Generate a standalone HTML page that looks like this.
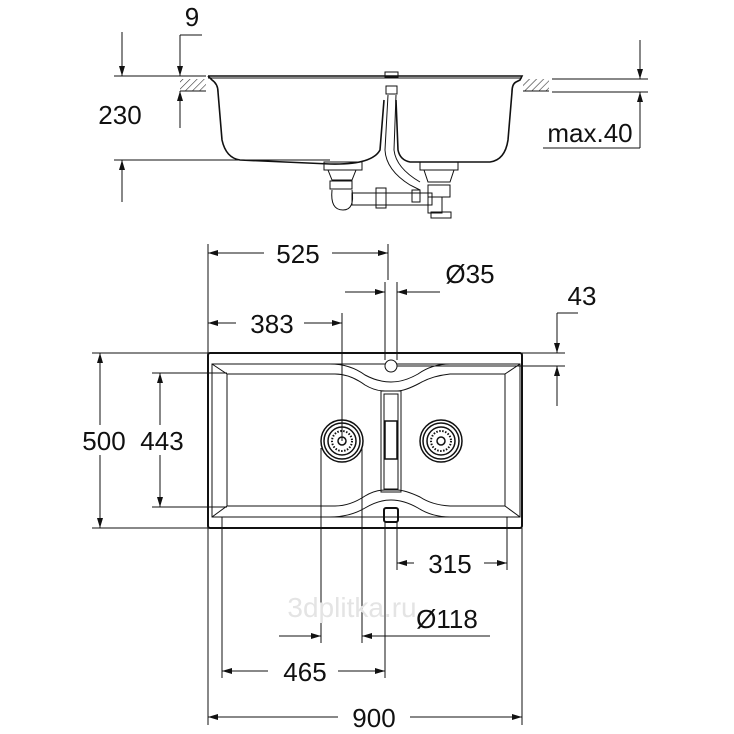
<!DOCTYPE html>
<html><head><meta charset="utf-8"><style>
html,body{margin:0;padding:0;background:#fff}
svg{display:block}
text{font-family:"Liberation Sans",Arial,sans-serif;font-size:26px;fill:#111}
</style></head><body>
<svg width="734" height="734" viewBox="0 0 734 734" xmlns="http://www.w3.org/2000/svg">
<defs>
<marker id="a" viewBox="0 0 10 6" refX="10" refY="3" markerWidth="14" markerHeight="6" markerUnits="userSpaceOnUse" orient="auto-start-reverse"><path d="M0,0L10,3L0,6z" fill="#111"/></marker>
<pattern id="h" width="5" height="5" patternUnits="userSpaceOnUse" patternTransform="rotate(45)"><line x1="0" y1="0" x2="0" y2="5" stroke="#333" stroke-width="1.2"/></pattern>
</defs>
<g stroke="#111" fill="none" stroke-width="1">
<rect x="180" y="79" width="26" height="12" fill="url(#h)" stroke="none"/>
<rect x="523" y="79" width="26" height="12" fill="url(#h)" stroke="none"/>
<line x1="180" y1="91" x2="206" y2="91"/><line x1="523" y1="91" x2="549" y2="91"/>
<path d="M208,76 L522,76 L520,80 L516,82 Q512,84 512,92 L508,140 Q505,160 490,162 L410,162 Q400,160 398,150 L396,100" stroke-width="1.6"/>
<path d="M208,76 L212,80 Q218,84 218,92 L222,140 Q226,158 240,160 L330,164 Q372,165 380,150 L384,100" stroke-width="1.6"/>
<line x1="208" y1="78" x2="522" y2="78"/>
<rect x="385" y="72" width="13" height="5"/>
<rect x="386" y="86" width="11" height="8"/>
<path d="M388,95 L385,150 Q386,170 410,185 L420,190 M396,95 L394,150 Q396,168 420,182"/>
<rect x="324" y="162" width="38" height="8"/><path d="M328,170 L356,170 L352,180 L332,180z"/>
<rect x="330" y="181" width="22" height="8"/><path d="M332,190 Q330,210 343,210 Q355,210 352,190"/>
<rect x="352" y="193" width="80" height="12"/><rect x="376" y="188" width="10" height="20"/>
<rect x="420" y="162" width="38" height="8"/><path d="M424,170 L454,170 L450,182 L428,182z"/>
<rect x="428" y="185" width="22" height="12"/><rect x="428" y="197" width="14" height="16"/>
<rect x="431" y="212" width="20" height="6"/><rect x="412" y="190" width="8" height="12"/>
<line x1="114" y1="76" x2="206" y2="76"/>
<line x1="114" y1="160" x2="330" y2="160"/>
<line x1="122" y1="32" x2="122" y2="76" marker-end="url(#a)"/>
<line x1="122" y1="202" x2="122" y2="160" marker-end="url(#a)"/>
<line x1="202" y1="35" x2="180" y2="35"/>
<line x1="180" y1="35" x2="180" y2="76" marker-end="url(#a)"/>
<line x1="180" y1="128" x2="180" y2="91" marker-end="url(#a)"/>
<line x1="552" y1="79" x2="648" y2="79"/>
<line x1="552" y1="92" x2="648" y2="92"/>
<line x1="640" y1="40" x2="640" y2="79" marker-end="url(#a)"/>
<line x1="640" y1="148" x2="640" y2="92" marker-end="url(#a)"/>
<line x1="543" y1="148" x2="640" y2="148"/>
<rect x="208" y="353" width="314" height="175" rx="2" stroke-width="2"/>
<rect x="212" y="364" width="308" height="153"/>
<path d="M212,364 L227,374 L227,506 L212,517 M520,364 L505,374 L505,506 L520,517"/>
<path d="M227,374 L335,374 Q350,374 365,385 Q375,391 385,391 L397,391 Q405,391 420,383 Q432,376 450,374 L505,374"/>
<path d="M212,364 L330,364 Q350,364 365,375 Q378,382 391,382 Q404,382 418,374 Q432,364 450,364 L520,364"/>
<path d="M227,506 L335,506 Q350,506 365,496 Q375,490 385,490 L397,490 Q405,490 420,497 Q432,505 450,506 L505,506"/>
<path d="M212,517 L330,517 Q350,517 365,508 Q378,500 391,500 Q404,500 418,508 Q432,517 450,517 L520,517"/>
<rect x="381" y="391" width="20" height="101"/><rect x="384" y="394" width="14" height="95"/>
<rect x="385" y="421" width="12" height="38" stroke-width="1.5"/>
<rect x="384" y="508" width="14" height="14" rx="2" stroke-width="2"/>
<circle cx="391" cy="366" r="6" fill="#fff"/>
<g stroke-width="1.5"><circle cx="342" cy="441" r="21"/><circle cx="342" cy="441" r="18"/><circle cx="342" cy="441" r="14"/><circle cx="342" cy="441" r="4"/>
<circle cx="441" cy="441" r="21"/><circle cx="441" cy="441" r="18"/><circle cx="441" cy="441" r="14"/><circle cx="441" cy="441" r="4"/></g>
<g stroke-dasharray="1.5 1.5" stroke-width="2"><circle cx="342" cy="441" r="10"/><circle cx="441" cy="441" r="10"/></g>
<line x1="208" y1="244" x2="208" y2="353"/><line x1="388" y1="244" x2="388" y2="280"/>
<line x1="208" y1="253" x2="388" y2="253" marker-start="url(#a)" marker-end="url(#a)"/>
<line x1="385" y1="282" x2="385" y2="360"/><line x1="397" y1="282" x2="397" y2="360"/>
<line x1="345" y1="292" x2="385" y2="292" marker-end="url(#a)"/>
<line x1="440" y1="292" x2="397" y2="292" marker-end="url(#a)"/>
<line x1="208" y1="323" x2="342" y2="323" marker-start="url(#a)" marker-end="url(#a)"/>
<line x1="342" y1="313" x2="342" y2="441"/>
<line x1="522" y1="353" x2="565" y2="353"/><line x1="397" y1="366" x2="565" y2="366"/>
<line x1="578" y1="313" x2="557" y2="313"/>
<line x1="557" y1="313" x2="557" y2="353" marker-end="url(#a)"/>
<line x1="557" y1="406" x2="557" y2="366" marker-end="url(#a)"/>
<line x1="92" y1="353" x2="208" y2="353"/><line x1="92" y1="528" x2="208" y2="528"/>
<line x1="100" y1="353" x2="100" y2="528" marker-start="url(#a)" marker-end="url(#a)"/>
<line x1="152" y1="373" x2="227" y2="373"/><line x1="152" y1="507" x2="227" y2="507"/>
<line x1="160" y1="373" x2="160" y2="507" marker-start="url(#a)" marker-end="url(#a)"/>
<line x1="208" y1="528" x2="208" y2="725"/><line x1="522" y1="528" x2="522" y2="725"/>
<line x1="222" y1="517" x2="222" y2="678"/><line x1="321" y1="448" x2="321" y2="643"/>
<line x1="362" y1="448" x2="362" y2="643"/><line x1="385" y1="522" x2="385" y2="678"/>
<line x1="397" y1="522" x2="397" y2="570"/><line x1="507" y1="517" x2="507" y2="570"/>
<line x1="397" y1="563" x2="507" y2="563" marker-start="url(#a)" marker-end="url(#a)"/>
<line x1="279" y1="636" x2="321" y2="636" marker-end="url(#a)"/>
<line x1="490" y1="636" x2="362" y2="636" marker-end="url(#a)"/>
<line x1="222" y1="671" x2="385" y2="671" marker-start="url(#a)" marker-end="url(#a)"/>
<line x1="208" y1="717" x2="522" y2="717" marker-start="url(#a)" marker-end="url(#a)"/>
</g>
<g>
<rect x="78" y="100" width="74" height="30" fill="#fff"/>
<text x="192" y="26" text-anchor="middle">9</text>
<text x="120" y="124" text-anchor="middle">230</text>
<text x="590" y="142" text-anchor="middle">max.40</text>
<rect x="264" y="240" width="68" height="26" fill="#fff"/>
<text x="298" y="263" text-anchor="middle">525</text>
<text x="470" y="283" text-anchor="middle">Ø35</text>
<text x="582" y="305" text-anchor="middle">43</text>
<rect x="236" y="310" width="68" height="26" fill="#fff"/>
<text x="272" y="333" text-anchor="middle">383</text>
<rect x="78" y="425" width="44" height="30" fill="#fff"/>
<text x="104" y="450" text-anchor="middle">500</text>
<rect x="134" y="425" width="58" height="30" fill="#fff"/>
<text x="162" y="450" text-anchor="middle">443</text>
<rect x="414" y="550" width="70" height="26" fill="#fff"/>
<text x="450" y="573" text-anchor="middle">315</text>
<text x="447" y="628" text-anchor="middle">Ø118</text>
<rect x="268" y="658" width="70" height="26" fill="#fff"/>
<text x="305" y="681" text-anchor="middle">465</text>
<rect x="338" y="704" width="72" height="26" fill="#fff"/>
<text x="374" y="727" text-anchor="middle">900</text>
<text x="352" y="617" text-anchor="middle" style="fill:#e4e4e4;font-size:28px">3dplitka.ru</text>
</g>
</svg>
</body></html>
